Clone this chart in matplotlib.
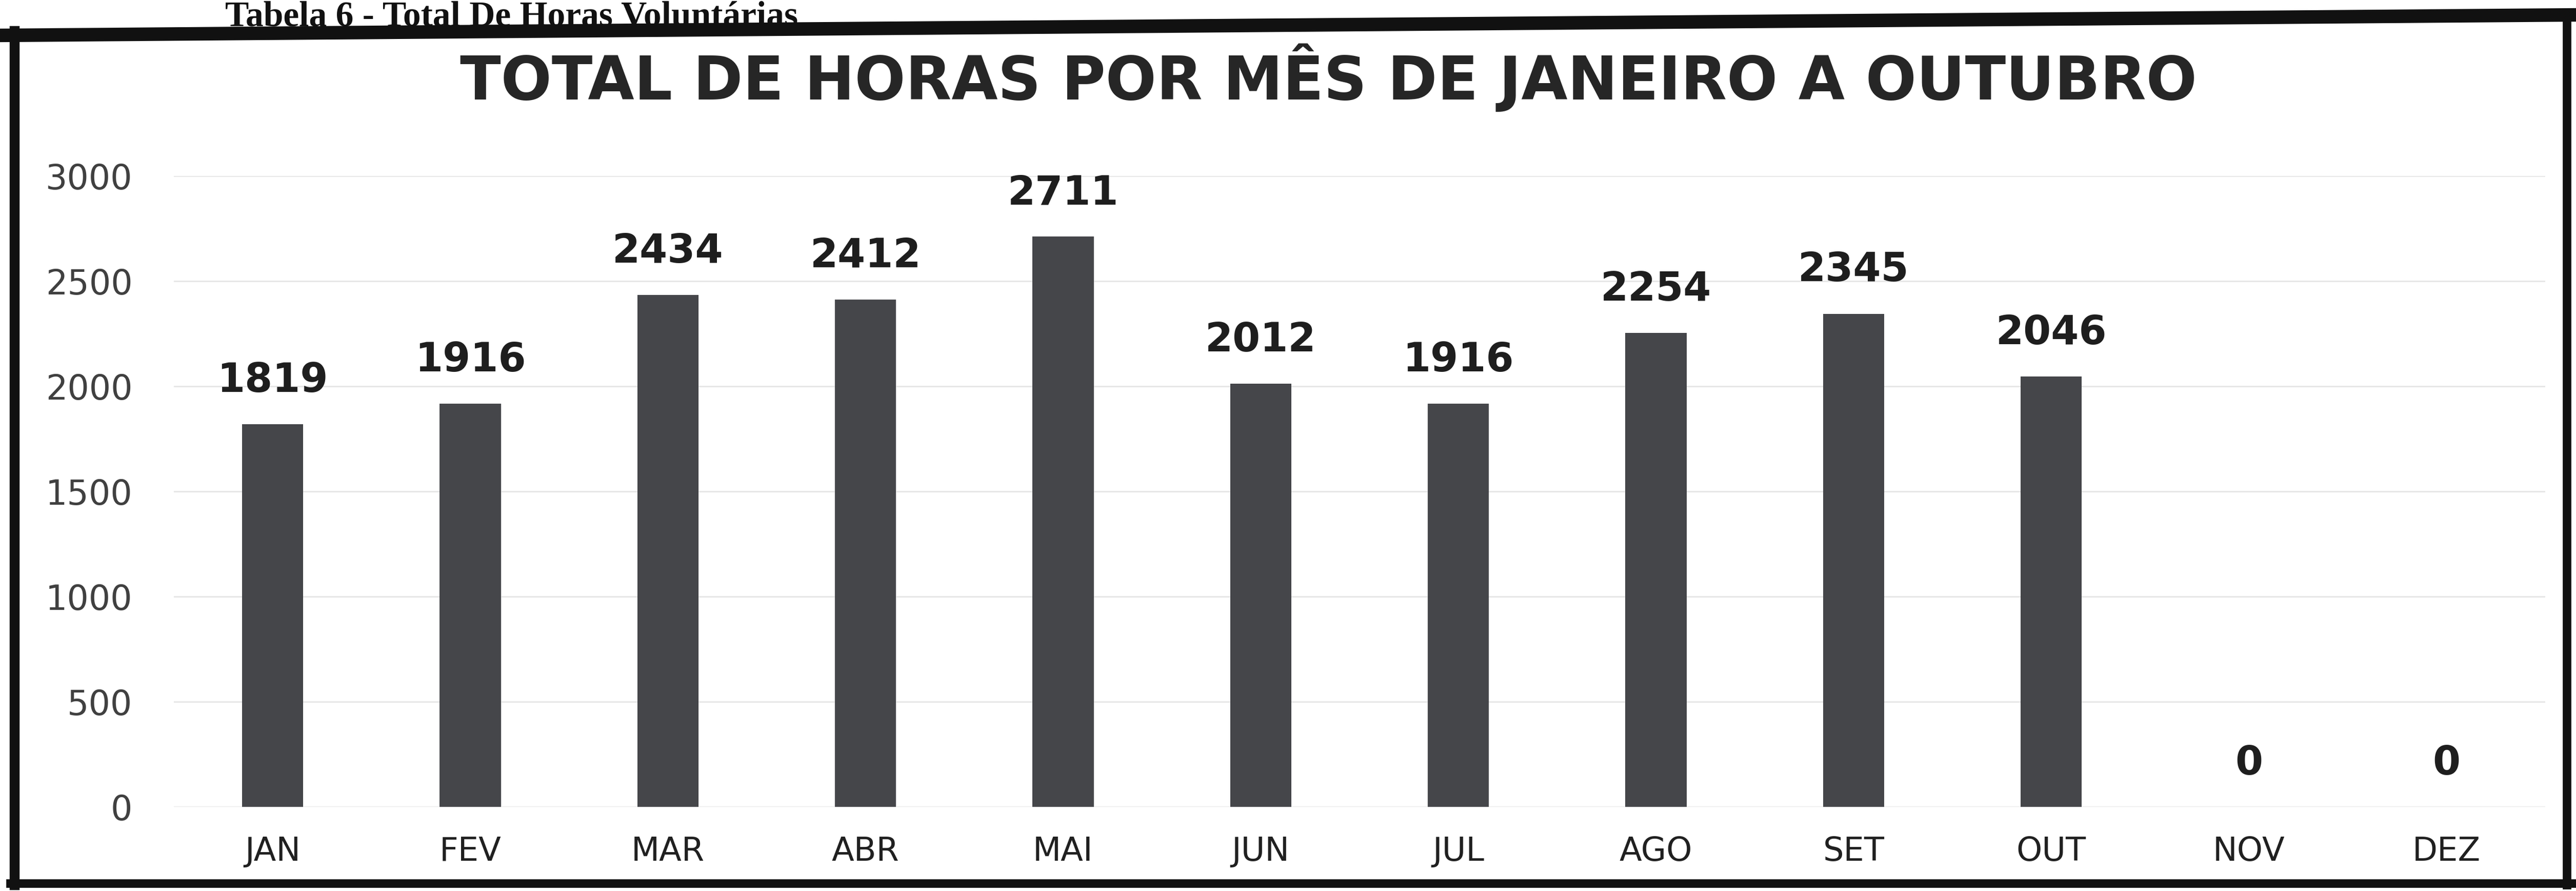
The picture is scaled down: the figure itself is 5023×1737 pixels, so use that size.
import matplotlib
matplotlib.use("Agg")
import matplotlib.pyplot as plt
from matplotlib.lines import Line2D

months = ["JAN", "FEV", "MAR", "ABR", "MAI", "JUN", "JUL", "AGO", "SET", "OUT", "NOV", "DEZ"]
hours = [1819, 1916, 2434, 2412, 2711, 2012, 1916, 2254, 2345, 2046, 0, 0]
yticks = [0, 500, 1000, 1500, 2000, 2500, 3000]
title = "TOTAL DE HORAS POR MÊS DE JANEIRO A OUTUBRO"
caption = "Tabela 6 - Total De Horas Voluntárias"

W, H = 5023, 1737
fig = plt.figure(figsize=(W / 100, H / 100), dpi=100)
fig.patch.set_facecolor("white")

def fx(px):
    return px / W

def fy(py):
    return 1 - py / H

ax = fig.add_axes([fx(339), fy(1573), fx(4963) - fx(339), fy(343) - fy(1573)])
x = list(range(len(months)))
bars = ax.bar(x, hours, width=0.31, color="#45464a", zorder=3)
ax.set_xlim(-0.5, len(months) - 0.5)
ax.set_ylim(0, 3000)
ax.set_yticks(yticks)
ax.set_yticklabels([str(v) for v in yticks], fontsize=48, color="#404040",
                   family="DejaVu Sans")
ax.set_xticks(x)
ax.set_xticklabels(months, fontsize=46, color="#202020", family="DejaVu Sans")
ax.tick_params(axis="y", length=0, pad=58)
ax.tick_params(axis="x", length=0, pad=40)
ax.grid(axis="y", color="#e6e6e6", linewidth=2.0, zorder=0)
for s in ax.spines.values():
    s.set_visible(False)

for xi, v in zip(x, hours):
    ax.annotate(str(v), (xi, v), xytext=(0, 34), textcoords="offset points",
                ha="center", va="bottom", fontsize=56, fontweight="bold",
                color="#1e1e1e", family="DejaVu Sans")

fig.text(fx(2590), fy(152), title, ha="center", va="center", fontsize=84,
         fontweight="bold", color="#262626", family="DejaVu Sans")

fig.text(fx(439), fy(2), caption, ha="left", va="top", fontsize=50,
         fontweight="bold", color="#111111", family="Liberation Serif")

# scanned frame
lines = [
    ((0, 69), (W, 29), 19),
    ((28, 60), (28, 1725), 14),
    ((5005, 30), (5005, 1725), 12),
    ((20, 1722), (W, 1722), 12),
]
for (x0, y0), (x1, y1), lw in lines:
    fig.add_artist(Line2D([fx(x0), fx(x1)], [fy(y0), fy(y1)], color="#111111",
                          linewidth=lw, transform=fig.transFigure))

fig.savefig("out.png", dpi=100, facecolor="white")
